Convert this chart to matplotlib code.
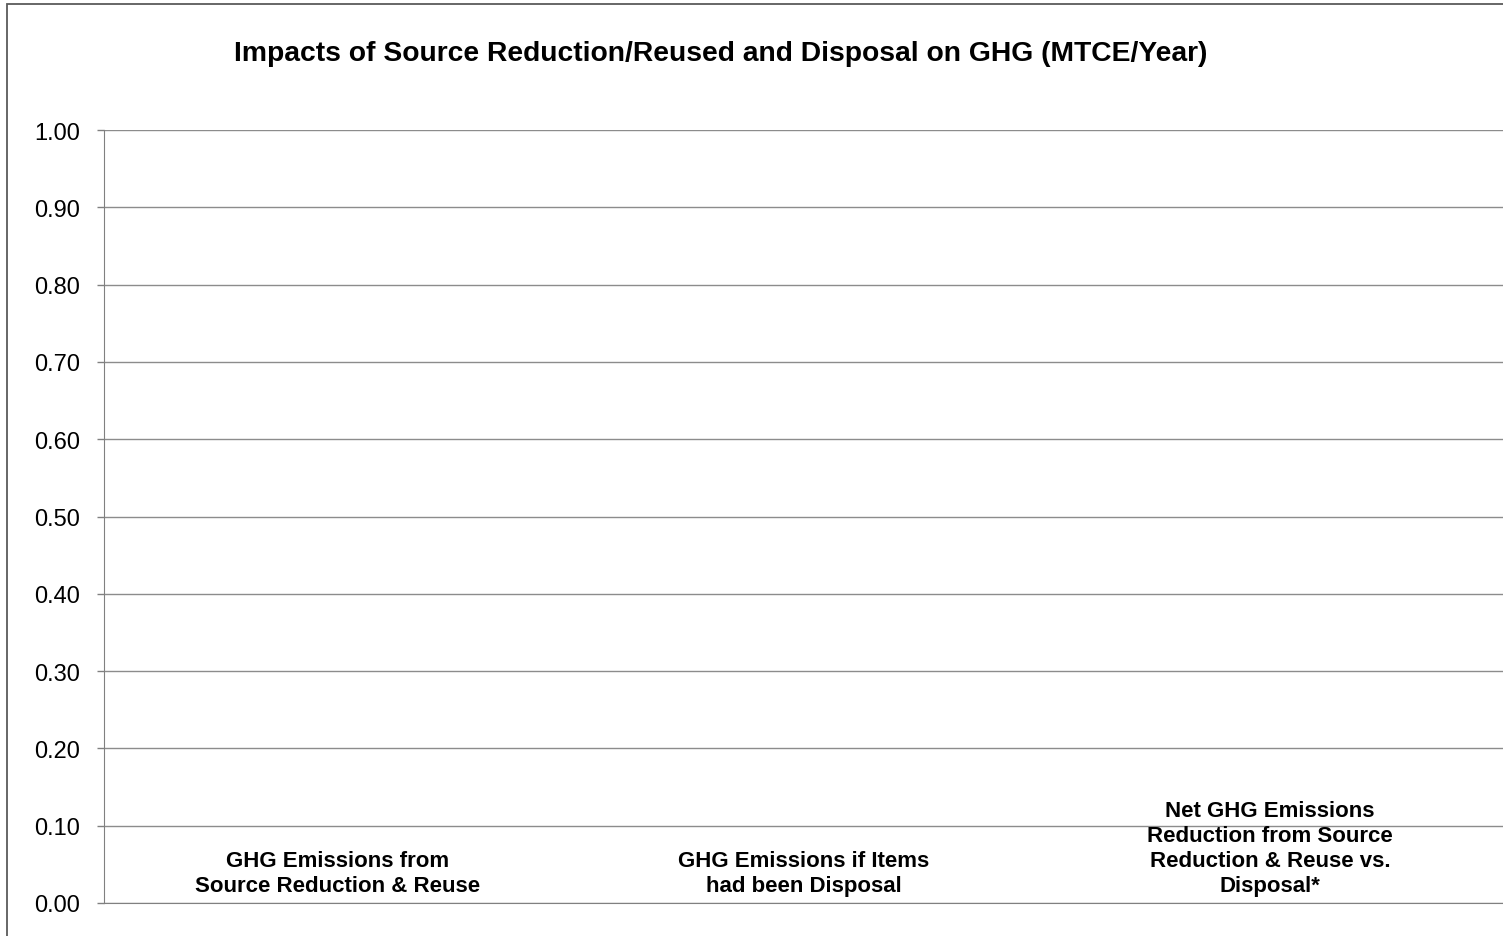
import matplotlib.pyplot as plt
from matplotlib.patches import Rectangle

plt.rcParams['font.family'] = ['Liberation Sans', 'DejaVu Sans']

categories = [
    "GHG Emissions from\nSource Reduction & Reuse",
    "GHG Emissions if Items\nhad been Disposal",
    "Net GHG Emissions\nReduction from Source\nReduction & Reuse vs.\nDisposal*",
]
values = [0.0, 0.0, 0.0]
y_ticks = [0.0, 0.1, 0.2, 0.3, 0.4, 0.5, 0.6, 0.7, 0.8, 0.9, 1.0]
title = "Impacts of Source Reduction/Reused and Disposal on GHG (MTCE/Year)"


def main():
    W, H = 1503, 937
    fig = plt.figure(figsize=(W / 100, H / 100), dpi=100)
    ax = fig.add_axes([104 / W, 1 - 904 / H, 1 - 104 / W, (904 - 131) / H])

    # chart area border (only left and top edges fall inside the picture)
    fig.patches.append(Rectangle((7 / W, -0.2), 1.2, 1.2 - 5 / H,
                                 transform=fig.transFigure, fill=False,
                                 edgecolor="#5a5a5a", linewidth=1.3))

    x = list(range(len(categories)))
    ax.bar(x, values, width=0.5, color="#4f81bd")
    ax.set_xlim(-0.5, len(categories) - 0.5)
    ax.set_ylim(0, 1.0)

    ax.set_yticks(y_ticks)
    ax.set_yticklabels([f"{v:.2f}" for v in y_ticks], fontsize=17)
    ax.tick_params(axis="y", direction="out", length=5, width=1,
                   color="#808080", pad=12)
    ax.set_xticks([])
    ax.grid(axis="y", color="#8c8c8c", linewidth=1)
    ax.set_axisbelow(True)

    for side in ["top", "right"]:
        ax.spines[side].set_visible(False)
    ax.spines["left"].set_color("#808080")
    ax.spines["bottom"].set_color("#808080")

    for xi, label in zip(x, categories):
        ax.annotate(label, (xi, 0), xytext=(0, 5), textcoords="offset points",
                    ha="center", va="bottom", fontsize=16, fontweight="bold",
                    linespacing=1.25)

    fig.text(721 / W, 1 - 54 / H, title, ha="center", va="center",
             fontsize=20.3, fontweight="bold")

    fig.savefig("out.png", dpi=100)


main()
